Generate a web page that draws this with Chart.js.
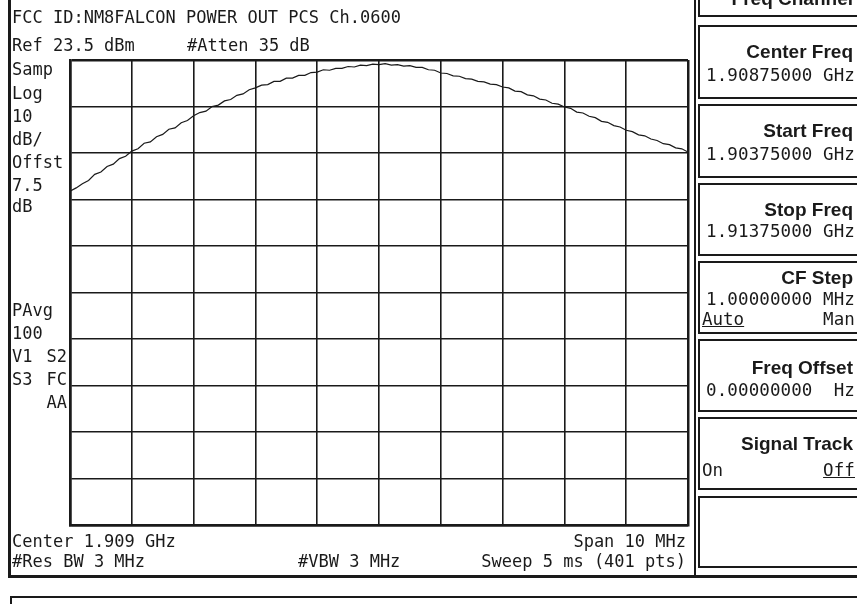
<!DOCTYPE html>
<html>
<head>
<meta charset="utf-8">
<script src="https://cdn.jsdelivr.net/npm/chart.js@4/dist/chart.umd.min.js"></script>
<style>
  body { margin: 0; background: #fff; }
  #wrap { position: relative; width: 857px; height: 604px; overflow: hidden; background: #fff; color: #1a1a1a; }
  #wrap canvas { position: absolute; left: 0; top: 0; }
  .t { position: absolute; font-family: "DejaVu Sans Mono", monospace; font-size: 17px; line-height: 20px; white-space: pre; }
  .r { text-align: right; }
  .key { position: absolute; left: 698px; width: 170px; border: 2.5px solid #1a1a1a; box-sizing: border-box; }
  .kt { position: absolute; right: 13px; font-family: "Liberation Sans", Arial, sans-serif; font-weight: bold; font-size: 19px; line-height: 20px; white-space: pre; }
  .kv { position: absolute; right: 11px; font-family: "DejaVu Sans Mono", monospace; font-size: 17.5px; letter-spacing: 0.1px; line-height: 20px; white-space: pre; }
  .kl { position: absolute; left: 2px; font-family: "DejaVu Sans Mono", monospace; font-size: 17.5px; line-height: 20px; }
  .u { text-decoration: underline; }
  .line { position: absolute; background: #1a1a1a; }
</style>
</head>
<body>
<div id="wrap">
  <canvas id="chart" width="857" height="604"></canvas>

  <!-- marcos de la pantalla -->
  <div class="line" style="left:8px;top:0;width:3px;height:578px"></div>
  <div class="line" style="left:694px;top:0;width:2px;height:578px"></div>
  <div class="line" style="left:8px;top:575px;width:849px;height:3px"></div>
  <div style="position:absolute;left:10px;top:596px;width:860px;height:40px;border:2px solid #1a1a1a;box-sizing:border-box"></div>

  <!-- cabecera -->
  <div class="t" style="left:12px;top:7px">FCC ID:NM8FALCON POWER OUT PCS Ch.0600</div>
  <div class="t" style="left:12px;top:35px">Ref 23.5 dBm</div>
  <div class="t" style="left:187px;top:35px">#Atten 35 dB</div>

  <!-- columna izquierda -->
  <div class="t" style="left:12px;top:59px">Samp</div>
  <div class="t" style="left:12px;top:83px">Log</div>
  <div class="t" style="left:12px;top:106px">10</div>
  <div class="t" style="left:12px;top:129px">dB/</div>
  <div class="t" style="left:12px;top:152px">Offst</div>
  <div class="t" style="left:12px;top:175px">7.5</div>
  <div class="t" style="left:12px;top:196px">dB</div>
  <div class="t" style="left:12px;top:300px">PAvg</div>
  <div class="t" style="left:12px;top:323px">100</div>
  <div class="t" style="left:12px;top:346px">V1</div>
  <div class="t r" style="left:12px;width:55px;top:346px">S2</div>
  <div class="t" style="left:12px;top:369px">S3</div>
  <div class="t r" style="left:12px;width:55px;top:369px">FC</div>
  <div class="t r" style="left:12px;width:55px;top:392px">AA</div>

  <!-- pie -->
  <div class="t" style="left:12px;top:531px">Center 1.909 GHz</div>
  <div class="t r" style="left:400px;width:286px;top:531px">Span 10 MHz</div>
  <div class="t" style="left:12px;top:551px">#Res BW 3 MHz</div>
  <div class="t" style="left:298px;top:551px">#VBW 3 MHz</div>
  <div class="t r" style="left:400px;width:286px;top:551px">Sweep 5 ms (401 pts)</div>

  <!-- teclas laterales -->
  <div class="key" style="top:-20px;height:37px"><div class="kt" style="top:7px">Freq Channel</div></div>
  <div class="key" style="top:25px;height:74px"><div class="kt" style="top:15px">Center Freq</div><div class="kv" style="top:38px">1.90875000 GHz</div></div>
  <div class="key" style="top:104px;height:74px"><div class="kt" style="top:15px">Start Freq</div><div class="kv" style="top:38px">1.90375000 GHz</div></div>
  <div class="key" style="top:183px;height:73px"><div class="kt" style="top:15px">Stop Freq</div><div class="kv" style="top:36px">1.91375000 GHz</div></div>
  <div class="key" style="top:261px;height:73px"><div class="kt" style="top:5px">CF Step</div><div class="kv" style="top:26px">1.00000000 MHz</div><div class="kl u" style="top:46px">Auto</div><div class="kv" style="top:46px">Man</div></div>
  <div class="key" style="top:339px;height:73px"><div class="kt" style="top:17px">Freq Offset</div><div class="kv" style="top:39px">0.00000000  Hz</div></div>
  <div class="key" style="top:417px;height:73px"><div class="kt" style="top:15px">Signal Track</div><div class="kl" style="top:41px">On</div><div class="kv u" style="top:41px">Off</div></div>
  <div class="key" style="top:496px;height:72px"></div>
</div>

<script>
// Datos del barrido (frecuencia en MHz, potencia en dBm)
const startMHz = 1903.75;
const stopMHz = 1913.75;
const stepMHz = 0.1;

const powerDbm = [
  -4.7, -4.0, -3.1, -2.4, -1.1, -0.6, 0.6, 1.1, 2.3, 2.8,
  3.9, 4.4, 5.6, 5.9, 7.0, 7.5, 8.6, 8.9, 10.0, 10.5,
  11.5, 12.2, 12.5, 13.5, 13.8, 14.7, 15.0, 15.9, 16.2, 17.1,
  17.5, 18.1, 18.2, 18.9, 18.9, 19.6, 19.6, 20.2, 20.2, 20.8,
  20.9, 21.4, 21.3, 21.7, 21.7, 22.1, 22.0, 22.4, 22.3, 22.6,
  22.5, 22.7, 22.4, 22.5, 22.2, 22.3, 21.9, 21.9, 21.4, 21.3,
  20.7, 20.6, 20.1, 20.0, 19.5, 19.4, 18.9, 18.8, 18.3, 18.2,
  17.7, 17.5, 16.8, 16.7, 16.0, 15.8, 15.1, 14.9, 14.2, 14.0,
  13.4, 13.1, 12.3, 12.1, 11.4, 11.1, 10.3, 10.1, 9.4, 9.1,
  8.4, 8.1, 7.4, 7.2, 6.5, 6.2, 5.5, 5.3, 4.6, 4.4,
  3.7
];

// Divisiones de la rejilla
const xTicks = [1903.75, 1904.75, 1905.75, 1906.75, 1907.75, 1908.75, 1909.75, 1910.75, 1911.75, 1912.75, 1913.75];
const yTicks = [-76.5, -66.5, -56.5, -46.5, -36.5, -26.5, -16.5, -6.5, 3.5, 13.5, 23.5];

// Puntos de frecuencia del barrido
const freqs = powerDbm.map((_, i) => +(startMHz + i * stepMHz).toFixed(2));

function edgeWidth(ctx, n) {
  return (ctx.index === 0 || ctx.index === n - 1) ? 2.5 : 1.6;
}

new Chart(document.getElementById('chart'), {
  type: 'line',
  data: {
    labels: freqs,
    datasets: [{
      data: powerDbm,
      borderColor: '#1a1a1a',
      borderWidth: 1.2,
      pointRadius: 0,
      tension: 0
    }]
  },
  options: {
    responsive: false,
    animation: false,
    layout: { padding: { left: 70, top: 60, right: 169, bottom: 79 } },
    plugins: { legend: { display: false }, tooltip: { enabled: false } },
    scales: {
      x: {
        type: 'linear',
        min: startMHz,
        max: stopMHz,
        afterBuildTicks: s => { s.ticks = xTicks.map(v => ({ value: v })); },
        ticks: { display: false },
        grid: { color: '#1a1a1a', lineWidth: ctx => edgeWidth(ctx, xTicks.length), drawTicks: false },
        border: { display: true, color: '#1a1a1a', width: 2.5 }
      },
      y: {
        type: 'linear',
        min: -76.5,
        max: 23.5,
        afterBuildTicks: s => { s.ticks = yTicks.map(v => ({ value: v })); },
        ticks: { display: false },
        grid: { color: '#1a1a1a', lineWidth: ctx => edgeWidth(ctx, yTicks.length), drawTicks: false },
        border: { display: true, color: '#1a1a1a', width: 2.5 }
      }
    }
  }
});
</script>
</body>
</html>
